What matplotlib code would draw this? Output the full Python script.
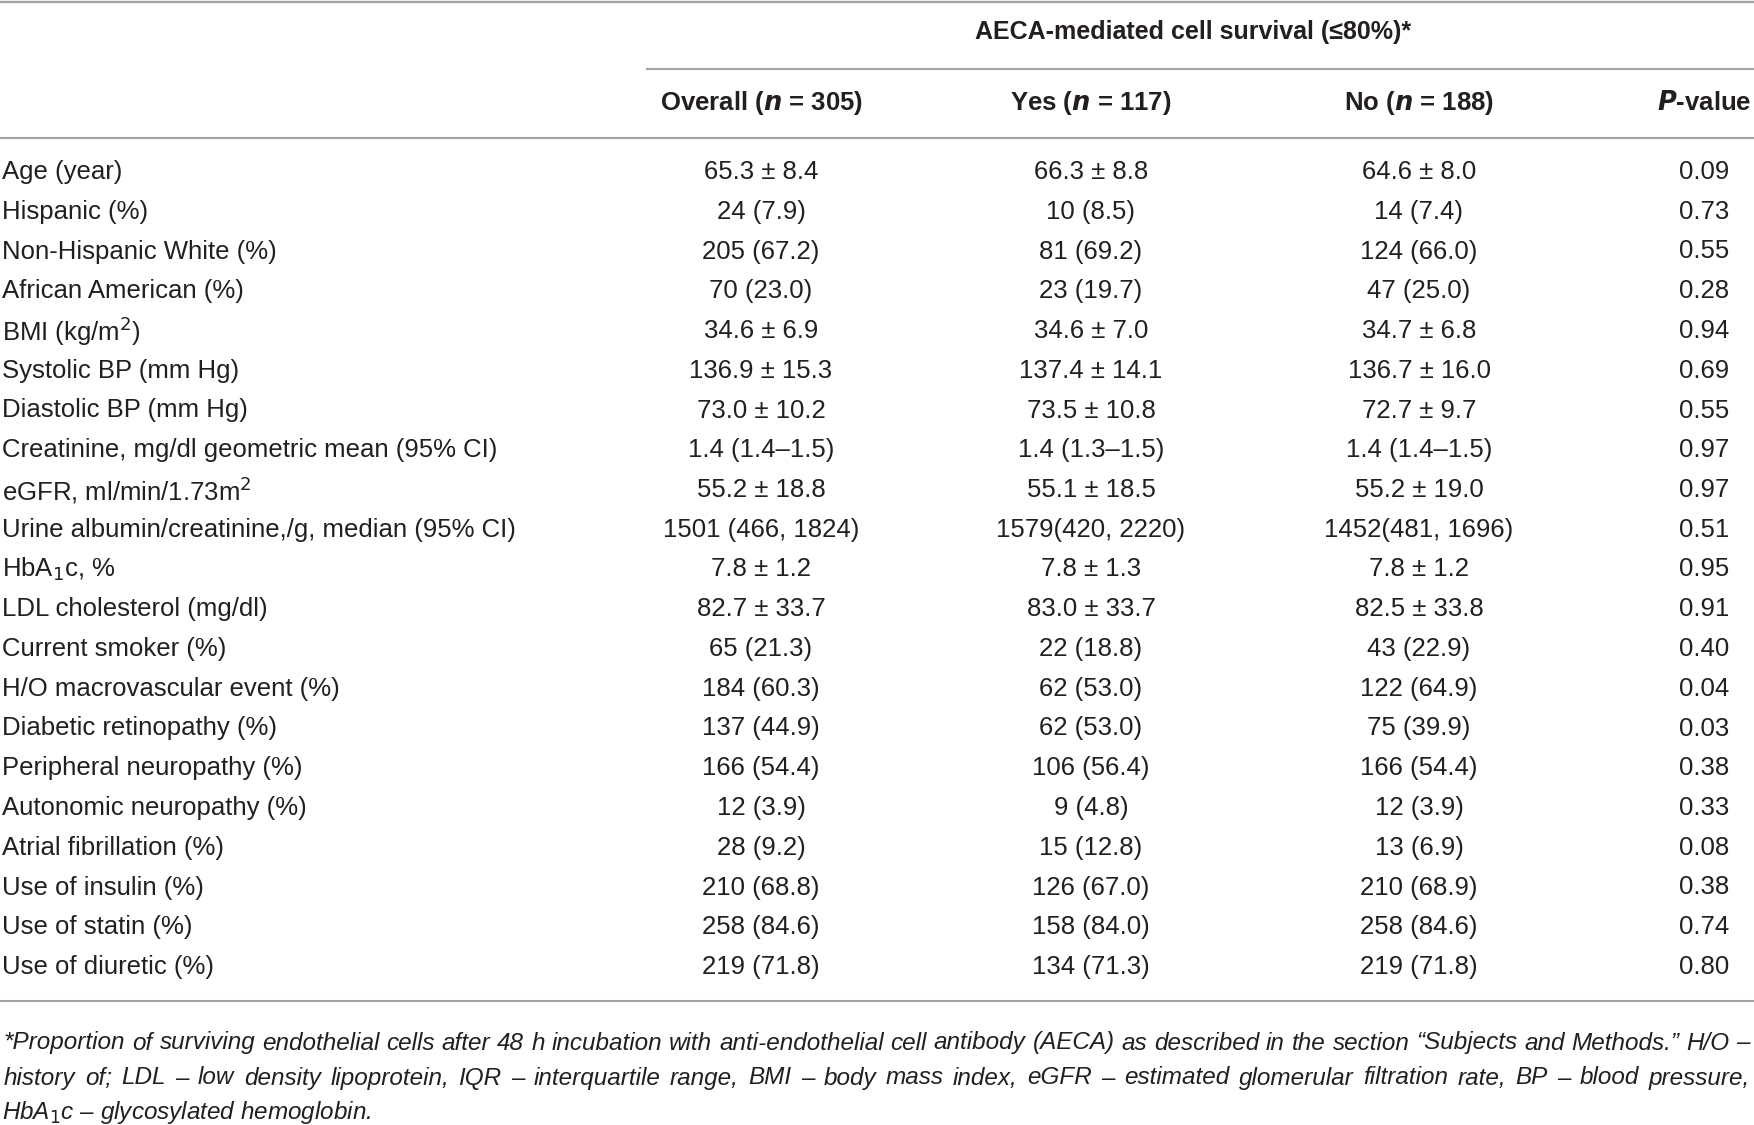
import matplotlib.pyplot as plt

plt.rcParams['font.family'] = ['Liberation Sans Narrow', 'Liberation Sans', 'DejaVu Sans']
plt.rcParams['mathtext.fontset'] = 'custom'
plt.rcParams['mathtext.rm'] = 'Liberation Sans Narrow'
plt.rcParams['mathtext.it'] = 'Liberation Sans Narrow:italic'
plt.rcParams['mathtext.bf'] = 'Liberation Sans Narrow:bold'
plt.rcParams['mathtext.bfit'] = 'Liberation Sans Narrow:italic:bold'

# table content
group_title = 'AECA-mediated cell survival (≤80%)*'
col_heads = [r'Overall ($\mathbfit{n}$ = 305)', r'Yes ($\mathbfit{n}$ = 117)',
             r'No ($\mathbfit{n}$ = 188)', r'$\mathbfit{P}$-value']

labels = ['Age (year)', 'Hispanic (%)', 'Non-Hispanic White (%)', 'African American (%)',
          'BMI (kg/m$^2$)', 'Systolic BP (mm Hg)', 'Diastolic BP (mm Hg)',
          'Creatinine, mg/dl geometric mean (95% CI)', 'eGFR, ml/min/1.73m$^2$',
          'Urine albumin/creatinine,/g, median (95% CI)', 'HbA$_1$c, %',
          'LDL cholesterol (mg/dl)', 'Current smoker (%)', 'H/O macrovascular event (%)',
          'Diabetic retinopathy (%)', 'Peripheral neuropathy (%)', 'Autonomic neuropathy (%)',
          'Atrial fibrillation (%)', 'Use of insulin (%)', 'Use of statin (%)',
          'Use of diuretic (%)']
overall = ['65.3 ± 8.4', '24 (7.9)', '205 (67.2)', '70 (23.0)', '34.6 ± 6.9', '136.9 ± 15.3',
           '73.0 ± 10.2', '1.4 (1.4–1.5)', '55.2 ± 18.8', '1501 (466, 1824)', '7.8 ± 1.2',
           '82.7 ± 33.7', '65 (21.3)', '184 (60.3)', '137 (44.9)', '166 (54.4)', '12 (3.9)',
           '28 (9.2)', '210 (68.8)', '258 (84.6)', '219 (71.8)']
yes = ['66.3 ± 8.8', '10 (8.5)', '81 (69.2)', '23 (19.7)', '34.6 ± 7.0', '137.4 ± 14.1',
       '73.5 ± 10.8', '1.4 (1.3–1.5)', '55.1 ± 18.5', '1579(420, 2220)', '7.8 ± 1.3',
       '83.0 ± 33.7', '22 (18.8)', '62 (53.0)', '62 (53.0)', '106 (56.4)', '9 (4.8)',
       '15 (12.8)', '126 (67.0)', '158 (84.0)', '134 (71.3)']
no = ['64.6 ± 8.0', '14 (7.4)', '124 (66.0)', '47 (25.0)', '34.7 ± 6.8', '136.7 ± 16.0',
      '72.7 ± 9.7', '1.4 (1.4–1.5)', '55.2 ± 19.0', '1452(481, 1696)', '7.8 ± 1.2',
      '82.5 ± 33.8', '43 (22.9)', '122 (64.9)', '75 (39.9)', '166 (54.4)', '12 (3.9)',
      '13 (6.9)', '210 (68.9)', '258 (84.6)', '219 (71.8)']
pvals = ['0.09', '0.73', '0.55', '0.28', '0.94', '0.69', '0.55', '0.97', '0.97', '0.51', '0.95',
         '0.91', '0.40', '0.04', '0.03', '0.38', '0.33', '0.08', '0.38', '0.74', '0.80']

footnote = [
    '*Proportion of surviving endothelial cells after 48 h incubation with anti-endothelial '
    'cell antibody (AECA) as described in the section “Subjects and Methods.” H/O –',
    'history of; LDL – low density lipoprotein, IQR – interquartile range, BMI – body mass '
    'index, eGFR – estimated glomerular filtration rate, BP – blood pressure,',
    r'HbA$_{\mathit{1}}$c – glycosylated hemoglobin.',
]

W, H = 1754, 1125
ink = '#231f20'
rule = '#a3a3a3'
fs = 18.5
fs_note = 17.5

fig = plt.figure(figsize=(W / 100, H / 100), dpi=100)
ax = fig.add_axes([0, 0, 1, 1])
ax.set_xlim(0, W)
ax.set_ylim(H, 0)
ax.axis('off')

col_x = [761, 1091, 1419, 1704]
row_y0, row_step = 172, 39.75

# rules
ax.plot([0, W], [2, 2], color=rule, lw=1.7)
ax.plot([647, W], [69, 69], color=rule, lw=1.5)
ax.plot([0, W], [138, 138], color=rule, lw=1.5)
ax.plot([0, W], [1001, 1001], color=rule, lw=1.5)

# headers
ax.text(1193, 32, group_title, ha='center', va='center', fontsize=18,
        fontweight='bold', color=ink)
for x, h in zip(col_x, col_heads):
    ax.text(x, 103, h, ha='center', va='center', fontsize=fs, fontweight='bold', color=ink)

# body
for i, lab in enumerate(labels):
    y = row_y0 + i * row_step
    ax.text(2, y, lab, ha='left', va='center', fontsize=fs, color=ink)
    for x, col in zip(col_x, [overall, yes, no, pvals]):
        ax.text(x, y, col[i], ha='center', va='center', fontsize=fs, color=ink)

# footnote, first two lines justified
renderer = fig.canvas.get_renderer()
foot_y = [1043, 1078, 1113]
for k, line in enumerate(footnote):
    y = foot_y[k]
    if k == len(footnote) - 1:
        ax.text(2, y, line, ha='left', va='center', fontsize=fs_note, style='italic', color=ink)
        continue
    words = line.split(' ')
    arts = [ax.text(0, y, w, ha='left', va='center', fontsize=fs_note, style='italic', color=ink)
            for w in words]
    widths = [a.get_window_extent(renderer).width for a in arts]
    gap = (1750 - 4 - sum(widths)) / (len(words) - 1)
    x = 4
    for a, wd in zip(arts, widths):
        a.set_x(x)
        x += wd + gap

fig.savefig('out.png', dpi=100)
